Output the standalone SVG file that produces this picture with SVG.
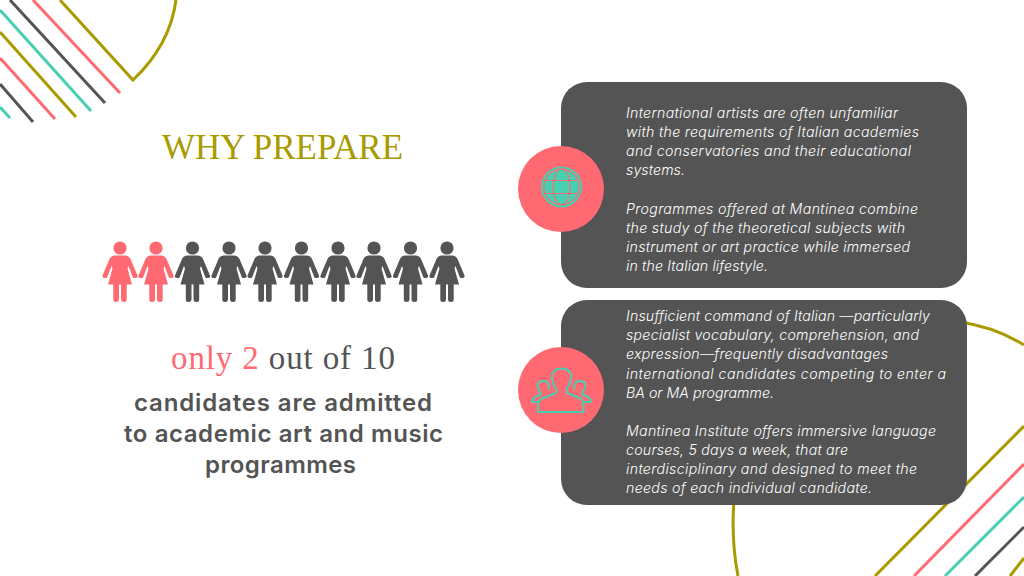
<svg xmlns="http://www.w3.org/2000/svg" width="1024" height="576" viewBox="0 0 1024 576">
<style>
.o{stroke:#a99a00}.p{stroke:#ff6a72}.t{stroke:#46cfb0}.d{stroke:#545454}
.l{stroke-width:3;fill:none}
.b{font-family:"Inter","Open Sans",sans-serif;font-style:italic;font-weight:300;font-size:14.2px;fill:#fff}
.h{font-family:"Inter","Open Sans",sans-serif;font-weight:600;font-size:24px;fill:#545454;text-anchor:middle}
.panel{fill:#545454}
.badge{fill:#ff6a72}
.ic{fill:none;stroke:#46cfb0;stroke-width:2;stroke-linejoin:round}
</style>
<defs>
<g id="person">
<circle cx="0" cy="-31" r="6.6"/>
<path d="M-5,-23.500 L5,-23.500 Q9,-23.500 10.500,-20 L17.500,-3.500 Q18,-1 15.500,-1 L14,-1 Q13,-1 12.500,-2.500 L8.500,-13 L7.500,-10.500 L12,5.500 L6.700,5.500 L6.700,20.500 Q6.700,23 4,23 Q1.200,23 1,20.500 L1,5.500 L-1,5.500 L-1,20.500 Q-1.200,23 -4,23 Q-6.700,23 -6.700,20.500 L-6.700,5.500 L-12,5.500 L-7.500,-10.500 L-8.500,-13 L-12.500,-2.500 Q-13,-1 -14,-1 L-15.500,-1 Q-18,-1 -17.500,-3.500 L-10.500,-20 Q-9,-23.500 -5,-23.500Z"/>
</g>
</defs>
<rect width="1024" height="576" fill="#fff"/>
<g id="decor-top-left" class="l">
<path class="o" d="M60,0 L133,80 Q170,45 176,0"/>
<path class="p" d="M33,0 L120,93"/>
<path class="d" d="M10,0 L105,103"/>
<path class="t" d="M0,10 L91,111"/>
<path class="o" d="M0,32 L76,117"/>
<path class="p" d="M0,58 L55,119"/>
<path class="d" d="M0,84 L33,122"/>
<path class="t" d="M0,107 L10,118"/>
</g>
<g id="decor-bottom-right" class="l">
<path class="o" d="M738,576 Q731,540 734,500 M960,322 Q995,327 1024,345"/>
<path class="o" d="M1024,426 L875,576"/>
<path class="p" d="M1024,464 L914,576"/>
<path class="t" d="M1024,497 L945,576"/>
<path class="d" d="M1024,527 L975,576"/>
<path class="o" d="M1024,558 L1010,576"/>
</g>
<g id="title"><text x="162" y="159" textLength="241" lengthAdjust="spacingAndGlyphs" font-family="'Liberation Serif',serif" font-size="36" fill="#a99a00">WHY PREPARE</text></g>
<g id="people">
<g fill="#ff6a72"><use href="#person" x="120" y="279"/><use href="#person" x="156" y="279"/></g>
<g fill="#545454"><use href="#person" x="192.500" y="279"/><use href="#person" x="229" y="279"/><use href="#person" x="265" y="279"/><use href="#person" x="301.500" y="279"/><use href="#person" x="338" y="279"/><use href="#person" x="374" y="279"/><use href="#person" x="410.500" y="279"/><use href="#person" x="447" y="279"/></g>
</g>
<g id="stat">
<text x="171" y="369" textLength="224" font-family="'Liberation Serif',serif" font-size="33" fill="#545454"><tspan fill="#ff6a72">only 2</tspan> out of 10</text>
<text class="h" x="283" y="411" textLength="298">candidates are admitted</text>
<text class="h" x="283.500" y="442" textLength="319">to academic art and music</text>
<text class="h" x="280.500" y="473" textLength="151">programmes</text>
</g>
<g id="panel-1">
<rect class="panel" x="561" y="82" width="406" height="206" rx="26"/>
<text class="b" x="626" y="118" textLength="272">International artists are often unfamiliar</text>
<text class="b" x="626" y="137" textLength="293">with the requirements of Italian academies</text>
<text class="b" x="626" y="156" textLength="285">and conservatories and their educational</text>
<text class="b" x="626" y="175" textLength="59">systems.</text>
<text class="b" x="626" y="214" textLength="292">Programmes offered at Mantinea combine</text>
<text class="b" x="626" y="233" textLength="279">the study of the theoretical subjects with</text>
<text class="b" x="626" y="252" textLength="284">instrument or art practice while immersed</text>
<text class="b" x="626" y="271" textLength="142">in the Italian lifestyle.</text>
</g>
<g id="panel-2">
<rect class="panel" x="561" y="300" width="406" height="205" rx="26"/>
<text class="b" x="626" y="321" textLength="304">Insufficient command of Italian —particularly</text>
<text class="b" x="626" y="340" textLength="293">specialist vocabulary, comprehension, and</text>
<text class="b" x="626" y="359" textLength="262">expression—frequently disadvantages</text>
<text class="b" x="626" y="379" textLength="320">international candidates competing to enter a</text>
<text class="b" x="626" y="398" textLength="148">BA or MA programme.</text>
<text class="b" x="626" y="436" textLength="310">Mantinea Institute offers immersive language</text>
<text class="b" x="626" y="455" textLength="222">courses, 5 days a week, that are</text>
<text class="b" x="626" y="474" textLength="291">interdisciplinary and designed to meet the</text>
<text class="b" x="626" y="493" textLength="246">needs of each individual candidate.</text>
</g>
<g id="badge-globe">
<circle class="badge" cx="561" cy="189" r="43"/>
<circle cx="561.500" cy="187" r="20.500" fill="#46cfb0"/>
<g fill="none" stroke="#ff6a72" stroke-width="1.200">
<circle cx="561.500" cy="187" r="17.800"/>
<ellipse cx="561.500" cy="187" rx="8.500" ry="18"/>
<path d="M545,180.500 H578 M545,193.500 H578"/>
</g>
</g>
<g id="badge-people">
<circle class="badge" cx="561" cy="390" r="43"/>
<path class="ic" d="M538,412 L538,404 Q538,399 546,397 L556,393 Q557,390 556,388 Q552,383 552,377 Q552,368.500 561.500,368.500 Q571,368.500 571,377 Q571,383 567,388 Q566,390 567,393 L577,397 Q583,399 583.500,404 L583.500,412Z"/>
<path class="ic" d="M538,402 L532,402 Q532,398 537,396 L541,394 Q541,392.500 540,391.500 Q537.500,388 537.500,385.500 Q538,381 543,381 Q548,381 549,386 L548.500,390"/>
<path class="ic" d="M584,402 L591,402 Q591,398 586,396 L582,394 Q582,392.500 583,391.500 Q585.500,388 585.500,385.500 Q585,381 580,381 Q575,381 574,386 L574.500,390"/>
</g>
</svg>
